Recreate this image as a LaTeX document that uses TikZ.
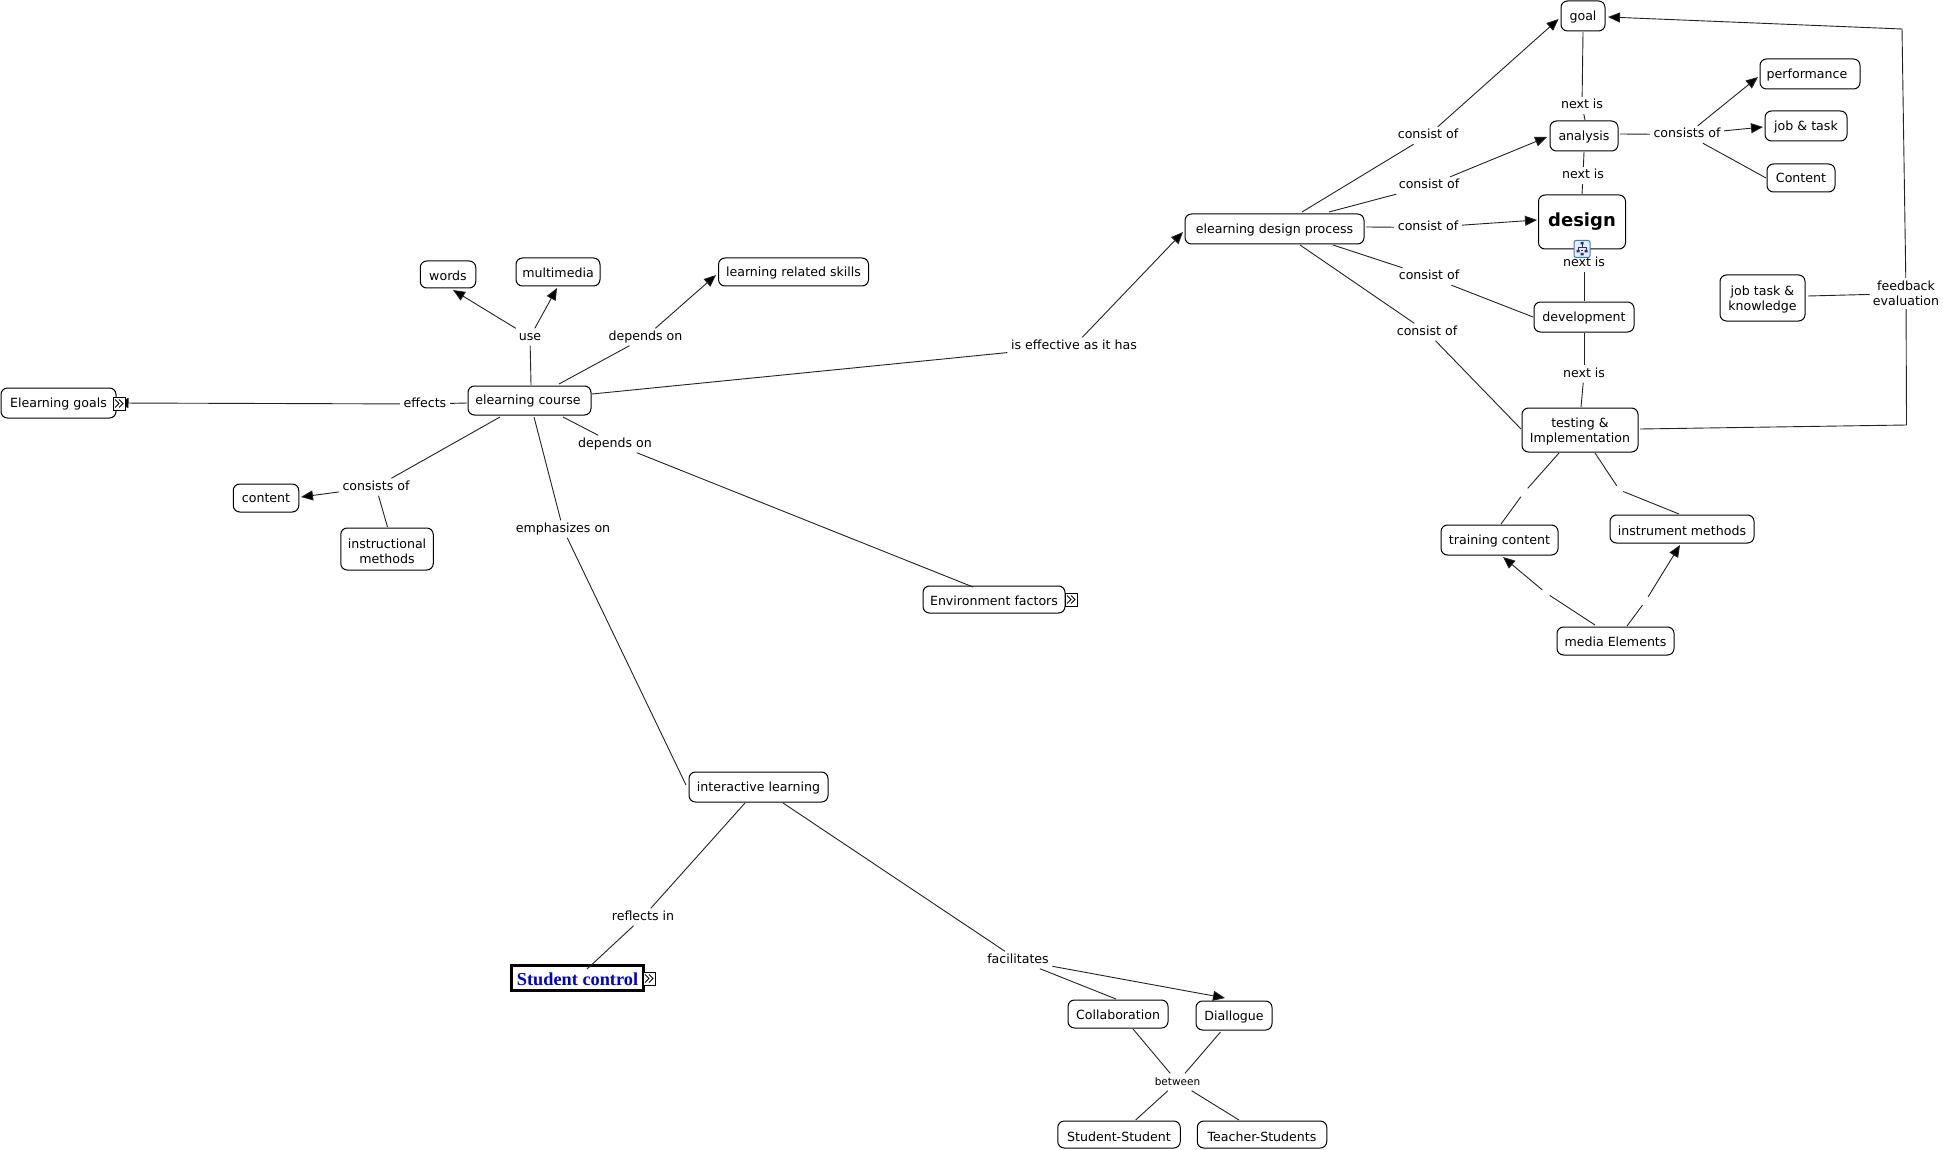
\documentclass[tikz,border=0pt]{standalone}
\usepackage{fontspec}
\setmainfont{DejaVu Sans}
\newfontfamily\serifbold{Liberation Serif}[BoldFont={Liberation Serif Bold}]
\usetikzlibrary{arrows.meta}
\definecolor{ink}{HTML}{222222}
\definecolor{iconblue}{HTML}{3F78C8}
\definecolor{iconfill}{HTML}{E4EEF8}
\definecolor{icondark}{HTML}{2A2F7A}
\tikzset{
  x=1pt,y=-1pt,
  lower/.style={execute at begin node={\rule[-3pt]{0pt}{#1pt}}},
  cbox/.style={draw=black,fill=white,line width=1pt,rounded corners=6.5pt,inner sep=0pt,align=center,
    font=\fontsize{12.6}{15}\selectfont,lower=14.5},
  cbox2/.style={draw=black,fill=white,line width=1pt,rounded corners=6.5pt,inner sep=0pt,align=center,
    font=\fontsize{12.6}{15}\selectfont},
  lab/.style={inner xsep=3.5pt,inner ysep=2.5pt,text height=9pt,text depth=3pt,font=\fontsize{12.6}{15}\selectfont},
  lab2/.style={inner xsep=3pt,inner ysep=3pt,align=center,font=\fontsize{12.6}{15}\selectfont},
  gapn/.style={inner sep=0pt,minimum width=7pt,minimum height=8pt},
  conn/.style={draw=ink,line width=.9pt},
  arr/.style={conn,-{Triangle[length=12pt,width=10pt,fill=black]}},
  morebox/.style={draw=black,fill=white,line width=1pt,inner sep=0pt,minimum width=12pt,minimum height=13pt},
  chev/.pic={
    \draw[black,line width=.9pt] (-4,-4) -- (0,0) -- (-4,4);
    \draw[black,line width=.9pt] (0,-4) -- (4,0) -- (0,4);
  },
  maplink/.style={draw=iconblue,fill=iconfill,line width=1pt,rounded corners=2pt,inner sep=0pt,minimum width=16pt,minimum height=17pt},
  tree/.pic={
    \draw[icondark,line width=.7pt] (0,-5) -- (0,-2) (-4,1) -- (-4,-2) -- (4,-2) -- (4,1) (-1,1) -- (1,1);
    \fill[icondark] (-1.5,-7) rectangle (1.5,-4.5) (-5.5,1) rectangle (-2.5,3.5) (2.5,1) rectangle (5.5,3.5) (-1.5,4) rectangle (1.5,6.5);
  }
}
\begin{document}
\begin{tikzpicture}
\useasboundingbox (0,0) rectangle (1943,1150);
\fill[white] (0,0) rectangle (1943,1150);
% concepts
\node[cbox,minimum width=44pt,minimum height=30pt] (goal) at (1583,16) {goal};
\node[cbox,minimum width=68pt,minimum height=30pt] (analysis) at (1584,136) {analysis};
\node[cbox,minimum width=87pt,minimum height=54pt,font=\fontsize{18}{22}\selectfont\bfseries] (design) at (1582,222) {design};
\node[cbox,minimum width=179pt,minimum height=30pt] (elp) at (1274.5,229) {elearning design process};
\node[cbox,minimum width=100pt,minimum height=30pt] (perf) at (1810,74) {performance\hspace{6pt}};
\node[cbox,minimum width=82pt,minimum height=30pt] (jobt) at (1806,126) {job \& task};
\node[cbox,minimum width=68pt,minimum height=28pt] (cont) at (1801,178) {Content};
\node[cbox2,minimum width=85pt,minimum height=46pt] (jtk) at (1762.5,298) {\rule{0pt}{12pt}job task \&\\knowledge};
\node[cbox,minimum width=100pt,minimum height=30pt] (devel) at (1584,317) {development};
\node[cbox2,minimum width=116pt,minimum height=44pt] (testing) at (1580,430) {\rule{0pt}{12pt}testing \&\\Implementation};
\node[cbox,minimum width=117pt,minimum height=30pt] (train) at (1499.5,540) {training content};
\node[cbox,lower=19.5,minimum width=144pt,minimum height=28pt] (instm) at (1682,529) {instrument methods};
\node[cbox,lower=17,minimum width=117pt,minimum height=28pt] (media) at (1615.5,641) {media Elements};
\node[cbox,minimum width=115pt,minimum height=30pt] (egoals) at (58.5,403) {Elearning goals};
\node[cbox,minimum width=123pt,minimum height=29pt] (course) at (529.5,400.5) {elearning course\hspace{3pt}};
\node[cbox,lower=17,minimum width=55.5pt,minimum height=27pt] (words) at (448,274.5) {words};
\node[cbox,lower=17,minimum width=84pt,minimum height=28pt] (mmedia) at (558,272) {multimedia};
\node[cbox,minimum width=65.5pt,minimum height=28pt] (content) at (266,498) {content};
\node[cbox2,minimum width=92.5pt,minimum height=42pt] (instr) at (387,549) {\rule{0pt}{15pt}instructional\\methods};
\node[cbox,minimum width=150pt,minimum height=28pt] (skills) at (793.5,272) {learning related skills};
\node[cbox,lower=17,minimum width=142pt,minimum height=27pt] (envf) at (994,599.5) {Environment factors};
\node[cbox,minimum width=139pt,minimum height=30pt] (inter) at (758.5,787) {interactive learning};
\node[draw=black,fill=white,line width=3pt,minimum width=132pt,minimum height=25pt,inner sep=0pt,text=blue!80!black,font=\fontsize{18.3}{22}\serifbold\bfseries,execute at begin node={\rule{0pt}{15pt}}] (stud) at (577.5,978) {Student control};
\node[cbox,lower=17,minimum width=100pt,minimum height=28pt] (collab) at (1118,1014) {Collaboration};
\node[cbox,lower=16,minimum width=76pt,minimum height=29pt] (dial) at (1234,1015.5) {Diallogue};
\node[cbox,lower=19.5,minimum width=122.5pt,minimum height=27pt] (sstud) at (1119,1134.5) {Student-Student};
\node[cbox,lower=19.5,minimum width=129.5pt,minimum height=27pt] (tstud) at (1262,1134.5) {Teacher-Students};
% linking phrases
\node[lab] (ne1) at (1582,105.5) {next is};
\node[lab] (ne2) at (1583,175.5) {next is};
\node[lab] (ne3) at (1584,263.5) {next is};
\node[lab] (ne4) at (1584,374) {next is};
\node[lab] (co1) at (1428,135.5) {consist of};
\node[lab] (co2) at (1429,185.5) {consist of};
\node[lab] (co3) at (1428,227.5) {consist of};
\node[lab] (co4) at (1429,276.5) {consist of};
\node[lab] (co5) at (1427,332) {consist of};
\node[lab] (cs1) at (1687,134.5) {consists of};
\node[lab2] (fb) at (1906,293.5) {feedback\\evaluation};
\node[lab] (use) at (530,337) {use};
\node[lab] (dep1) at (645.5,337) {depends on};
\node[lab] (eff) at (425,404) {effects};
\node[lab] (cs2) at (376,487) {consists of};
\node[lab] (dep2) at (615,444) {depends on};
\node[lab] (emph) at (563,529) {emphasizes on};
\node[lab] (iseff) at (1074,346) {is effective as it has};
\node[lab] (refl) at (643,917) {reflects in};
\node[lab] (facil) at (1018,960) {facilitates};
\node[lab,font=\fontsize{10.5}{13}\selectfont] (betw) at (1177.5,1082) {between};
% blank linking phrases
\node[gapn] (g1) at (1524,492.5) {};
\node[gapn] (g2) at (1619.5,490) {};
\node[gapn] (g3) at (1546,593) {};
\node[gapn] (g4) at (1645.5,601) {};
\coordinate (c1) at (1902,29);
\coordinate (c2) at (1906.5,425);
% connectors, right block
\draw[conn] ([shift={(27.5,-17)}]elp.center) -- (co1);
\draw[arr] (co1) -- ([shift={(-24.4,3)}]goal.center);
\draw[conn] ([shift={(54.5,-17)}]elp.center) -- (co2);
\draw[arr] (co2) -- ([shift={(-37,1)}]analysis.center);
\draw[conn] ([shift={(91.5,-2)}]elp.center) -- (co3);
\draw[arr] (co3) -- ([shift={(-45,-2)}]design.center);
\draw[conn] ([shift={(58.5,16)}]elp.center) -- (co4);
\draw[conn] (co4) -- ([shift={(-51,0)}]devel.center);
\draw[conn] ([shift={(25.5,16)}]elp.center) -- (co5);
\draw[conn] (co5) -- ([shift={(-59,-1)}]testing.center);
\draw[conn] ([shift={(0,16)}]goal.center) -- (ne1);
\draw[conn] (ne1) -- ([shift={(1,-16)}]analysis.center);
\draw[conn] ([shift={(0,16)}]analysis.center) -- (ne2);
\draw[conn] (ne2) -- ([shift={(0,-28)}]design.center);
\draw[conn] (ne3) -- ([shift={(0,-16)}]devel.center);
\draw[conn] ([shift={(0,16)}]devel.center) -- (ne4);
\draw[conn] (ne4) -- ([shift={(1,-23)}]testing.center);
\draw[conn] ([shift={(36,-2)}]analysis.center) -- (cs1);
\draw[arr] (cs1) -- ([shift={(-52,3)}]perf.center);
\draw[arr] (cs1) -- ([shift={(-43,1)}]jobt.center);
\draw[conn] (cs1) -- ([shift={(-35,0)}]cont.center);
\draw[conn] ([shift={(45.5,-2)}]jtk.center) -- (fb);
\draw[conn] ([shift={(60,-1)}]testing.center) -- (c2) -- (fb);
\draw[arr] (fb) -- (c1) -- ([shift={(25,1)}]goal.center);
\draw[conn] ([shift={(-21,23)}]testing.center) -- (g1);
\draw[conn] (g1) -- ([shift={(1.5,-16)}]train.center);
\draw[conn] ([shift={(15,23)}]testing.center) -- (g2);
\draw[conn] (g2) -- ([shift={(-3,-15)}]instm.center);
\draw[conn] ([shift={(-20.5,-16)}]media.center) -- (g3);
\draw[arr] (g3) -- ([shift={(3.5,17)}]train.center);
\draw[conn] ([shift={(11.5,-15)}]media.center) -- (g4);
\draw[arr] (g4) -- ([shift={(-2,16)}]instm.center);
% connectors, left block
\draw[conn] ([shift={(1.5,-15.5)}]course.center) -- (use);
\draw[arr] (use) -- ([shift={(5,15.5)}]words.center);
\draw[arr] (use) -- ([shift={(-1,16)}]mmedia.center);
\draw[conn] ([shift={(29.5,-16.5)}]course.center) -- (dep1);
\draw[arr] (dep1) -- ([shift={(-77.5,3)}]skills.center);
\draw[conn] ([shift={(62.5,-6.5)}]course.center) -- (iseff);
\draw[arr] (iseff) -- ([shift={(-91.5,3)}]elp.center);
\draw[conn] ([shift={(33.5,16.5)}]course.center) -- (dep2);
\draw[conn] (dep2) -- ([shift={(-21,-12.5)}]envf.center);
\draw[conn] ([shift={(4.5,16.5)}]course.center) -- (emph);
\draw[conn] (emph) -- ([shift={(-72.5,-2)}]inter.center);
\draw[conn] ([shift={(-62.5,2.5)}]course.center) -- (eff);
\draw[arr] (eff) -- ([shift={(58,0)}]egoals.center);
\draw[conn] ([shift={(-29.5,16.5)}]course.center) -- (cs2);
\draw[arr] (cs2) -- ([shift={(35,-1)}]content.center);
\draw[conn] (cs2) -- ([shift={(.5,-22)}]instr.center);
% connectors, bottom
\draw[conn] ([shift={(-13.5,16)}]inter.center) -- (refl);
\draw[conn] (refl) -- ([shift={(9.5,-9)}]stud.center);
\draw[conn] ([shift={(24.5,16)}]inter.center) -- (facil);
\draw[conn] (facil) -- ([shift={(-2,-15)}]collab.center);
\draw[arr] (facil) -- ([shift={(-9,-17.5)}]dial.center);
\draw[conn] ([shift={(15,15)}]collab.center) -- (betw);
\draw[conn] ([shift={(-13.5,16.5)}]dial.center) -- (betw);
\draw[conn] (betw) -- ([shift={(16.6,-14.5)}]sstud.center);
\draw[conn] (betw) -- ([shift={(-23,-14.5)}]tstud.center);
% icons
\node[morebox] (m1) at (119,403.5) {};
\pic at (m1.center) {chev};
\node[morebox] (m2) at (1071,599.5) {};
\pic at (m2.center) {chev};
\node[morebox] (m3) at (649,978.5) {};
\pic at (m3.center) {chev};
\node[maplink] (tr) at (1582,249) {};
\pic at (tr.center) {tree};
\end{tikzpicture}
\end{document}
